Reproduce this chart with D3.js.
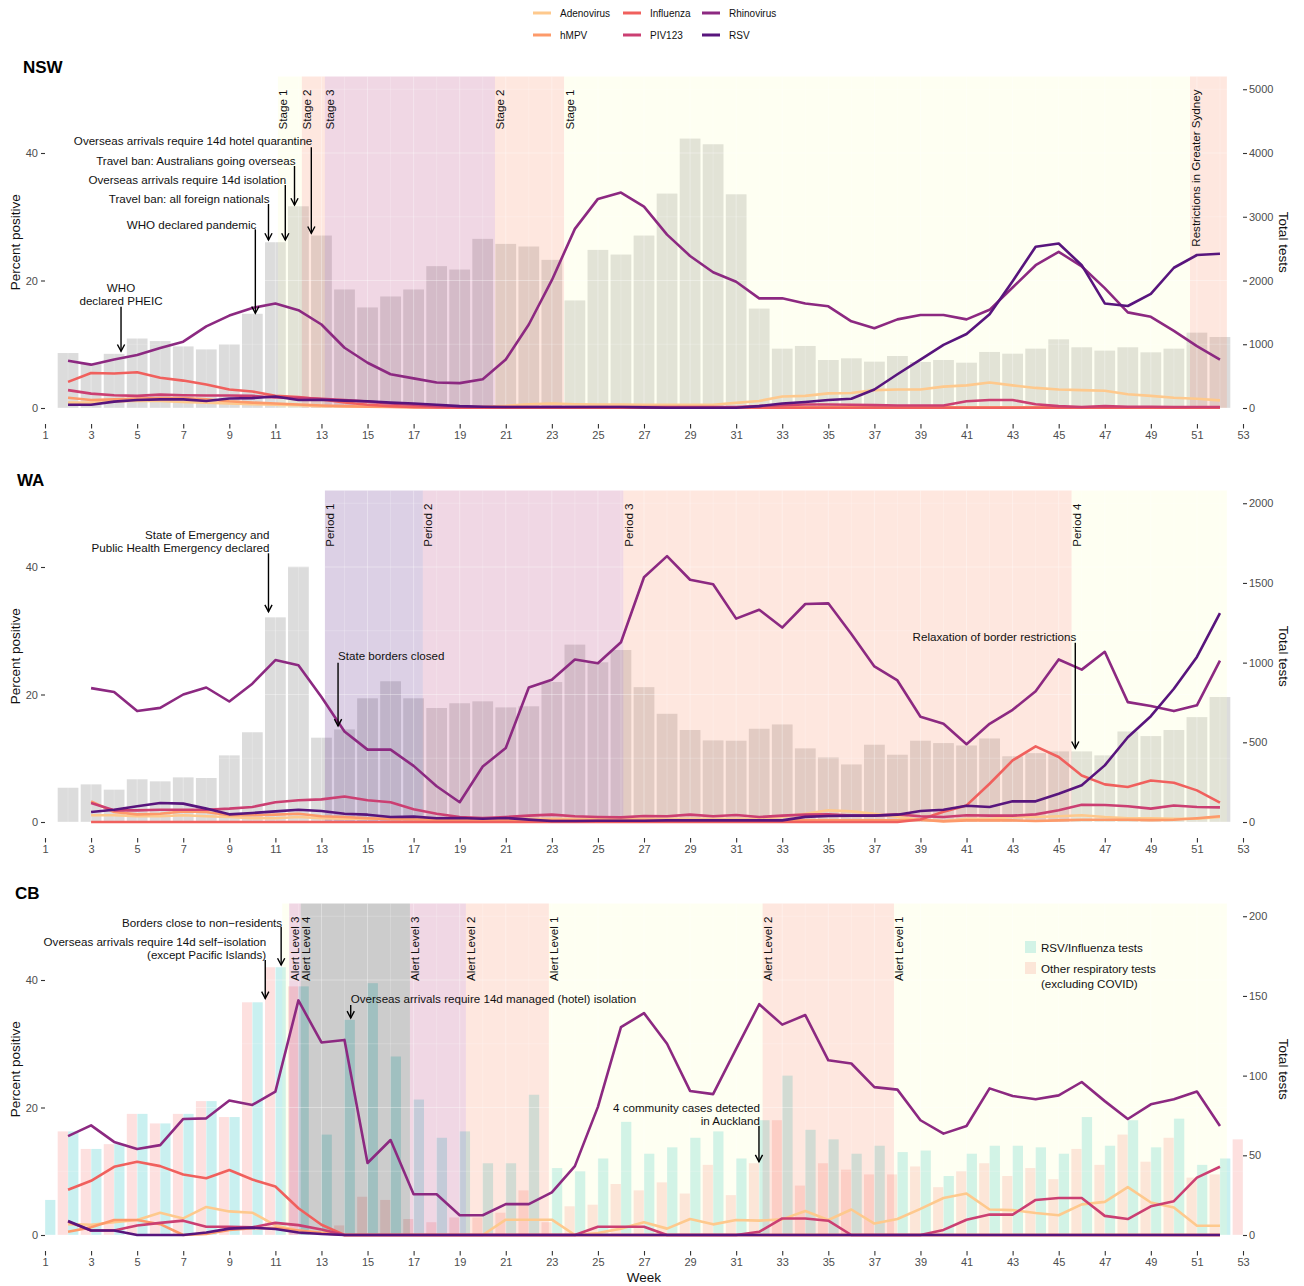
<!DOCTYPE html>
<html>
<head>
<meta charset="utf-8">
<script src="https://cdn.jsdelivr.net/npm/d3@7"></script>
<style>
  body { margin: 0; background: #ffffff; }
  text { font-family: "Liberation Sans", Arial, Helvetica, sans-serif; }
</style>
</head>
<body>
<svg id="chart" width="1304" height="1286"></svg>
<script>
// ---------------- DATA ----------------
const seriesNames = ["Adenovirus", "hMPV", "Influenza", "PIV123", "Rhinovirus", "RSV"];
const seriesColors = ["#FEC98D", "#FD9A6A", "#F0605D", "#CB3F72", "#8C2981", "#58157D"];
const weekTicks = [1,3,5,7,9,11,13,15,17,19,21,23,25,27,29,31,33,35,37,39,41,43,45,47,49,51,53];
const percentTicks = [0, 20, 40];

// NSW (bars weeks 2-52, lines weeks 2-52)
const nswTestStart = 2;
const nswTests = [862,690,850,1090,1050,966,919,997,1478,2600,
  3164,2705,1859,1577,1749,1859,2225,2172,2653,2574,
  2533,2324,1687,2480,2407,2705,3363,4226,4137,3352,
  1559,931,973,753,779,727,816,722,753,711,
  879,852,931,1077,952,900,952,873,931,1182,
  1114];
const nswLineStart = 2;
const nswAdenovirus = [0.85,0.85,1.0,1.15,1.1,0.95,0.85,0.7,0.6,0.5,
  0.45,0.3,0.25,0.2,0.2,0.15,0.15,0.15,0.2,0.35,
  0.6,0.7,0.6,0.55,0.55,0.5,0.5,0.5,0.5,0.8,
  1.1,1.8,1.9,2.3,2.35,2.8,2.9,2.9,3.35,3.55,
  4.0,3.55,3.15,2.9,2.8,2.7,2.15,1.9,1.6,1.45,
  1.2];
const nswHMPV = [1.6,1.25,1.35,1.5,1.55,1.55,1.35,1.05,0.85,0.7,
  0.55,0.4,0.3,0.2,0.15,0.1,0.1,0.1,0.1,0.1,
  0.1,0.1,0.1,0.1,0.1,0.1,0.1,0.1,0.1,0.1,
  0.1,0.1,0.1,0.1,0.1,0.1,0.1,0.1,0.1,0.1,
  0.1,0.1,0.1,0.1,0.1,0.1,0.1,0.1,0.1,0.1,
  0.1];
const nswInfluenza = [4.1,5.5,5.4,5.6,4.75,4.3,3.7,2.9,2.6,1.9,
  1.7,1.35,0.85,0.5,0.3,0.15,0.1,0.05,0.05,0.05,
  0.05,0.05,0.05,0.05,0.05,0.05,0.05,0.05,0.05,0.05,
  0.05,0.05,0.05,0.05,0.05,0.05,0.05,0.05,0.05,0.05,
  0.05,0.05,0.05,0.05,0.05,0.05,0.05,0.05,0.05,0.05,
  0.05];
const nswPIV123 = [2.8,2.25,2.0,1.9,2.1,2.0,1.95,1.95,1.9,1.65,
  1.6,1.45,1.25,1.0,0.7,0.5,0.3,0.2,0.15,0.15,
  0.15,0.15,0.15,0.15,0.15,0.15,0.15,0.15,0.15,0.15,
  0.3,0.45,0.55,0.55,0.5,0.45,0.4,0.4,0.4,1.05,
  1.25,1.25,0.6,0.3,0.15,0.3,0.2,0.2,0.15,0.15,
  0.15];
const nswRhinovirus = [7.4,6.8,7.6,8.3,9.4,10.4,12.8,14.5,15.7,16.4,
  15.35,13.1,9.45,7.1,5.3,4.65,4.0,3.9,4.5,7.6,
  13.1,20.05,28.1,32.8,33.8,31.6,27.2,23.85,21.3,19.8,
  17.2,17.2,16.4,15.95,13.6,12.5,13.9,14.6,14.6,13.9,
  15.4,18.9,22.4,24.5,22.2,18.8,15.0,14.3,12.1,9.7,
  7.6];
const nswRSV = [0.5,0.5,1.0,1.25,1.35,1.35,1.1,1.5,1.55,1.8,
  1.25,1.3,1.15,1.05,0.85,0.7,0.5,0.3,0.2,0.15,
  0.15,0.15,0.15,0.15,0.15,0.1,0.05,0.05,0.05,0.05,
  0.3,0.7,0.95,1.25,1.45,2.9,5.3,7.6,9.9,11.6,
  14.7,19.9,25.3,25.8,22.4,16.4,16.0,17.9,22.0,24.0,
  24.2];
const nswRightTicks = [0,1000,2000,3000,4000,5000];
const nswRegionStart = [11.11, 12.15, 13.15, 20.53, 23.53, 50.7];
const nswRegionEnd   = [12.15, 13.15, 20.53, 23.53, 50.7, 52.3];
const nswRegionLevel = ["L1", "L2", "L3", "L2", "L1", "L2"];
const nswRegionLabel = ["Stage 1", "Stage 2", "Stage 3", "Stage 2", "Stage 1", "Restrictions in Greater Sydney"];
const nswNoteWeek = [4.3, 10.13, 10.7, 11.43, 11.83, 12.56];
const nswNoteText = [["WHO", "declared PHEIC"], ["WHO declared pandemic"], ["Travel ban: all foreign nationals"],
  ["Overseas arrivals require 14d isolation"], ["Travel ban: Australians going overseas"],
  ["Overseas arrivals require 14d hotel quarantine"]];
const nswNoteTextAt = [18.87, 28.86, 32.94, 35.92, 38.9, 41.93];
const nswNoteFrom = [15.9, 28.03, 32.0, 34.98, 37.96, 40.9];
const nswNoteTo = [8.9, 14.86, 26.35, 26.35, 31.84, 27.4];
const nswNoteAnchor = ["middle", "end", "end", "end", "end", "end"];

// WA (bars weeks 2-52, lines weeks 3-52)
const waTestStart = 2;
const waTests = [215,236,203,268,255,280,276,418,563,1284,
  1602,529,581,776,883,776,715,745,757,719,
  726,878,1113,1002,1079,846,679,577,512,510,
  585,612,462,405,361,485,422,510,495,480,
  524,412,432,443,443,418,568,539,577,658,
  784];
const waLineStart = 3;
const waAdenovirus = [1.05,1.05,0.9,0.9,1.05,0.9,0.78,0.58,0.6,0.78,
  0.6,0.5,0.5,0.5,0.5,0.5,0.5,0.5,0.5,0.5,
  0.5,0.5,0.5,0.5,0.5,0.5,0.5,0.5,0.5,0.5,
  0.8,1.3,1.83,1.67,1.3,0.78,0.35,0.15,0.5,0.5,
  0.78,0.78,0.9,1.05,0.78,0.6,0.6,0.5,0.5,0.78];
const waHMPV = [3.24,1.57,1.2,1.3,1.67,1.57,1.05,1.05,1.15,1.3,
  0.9,0.78,0.6,0.45,0.4,0.35,0.3,0.3,0.3,0.3,
  0.3,0.3,0.3,0.3,0.3,0.26,0.26,0.26,0.26,0.26,
  0.26,0.26,0.26,0.26,0.26,0.26,0.35,0.1,0.26,0.26,
  0.26,0.15,0.26,0.35,0.35,0.35,0.3,0.35,0.6,0.9];
const waInfluenza = [0,0,0,0,0,0,0,0,0,0,
  0,0,0,0,0,0,0,0,0,0,
  0,0,0,0,0,0,0,0,0,0,
  0,0,0,0,0,0,0.4,1.6,2.6,6.0,
  9.66,11.86,10.2,7.3,5.9,5.5,6.5,6.16,4.96,3.03];
const waPIV123 = [2.98,1.83,1.83,1.93,1.93,1.93,2.1,2.35,3.1,3.4,
  3.55,4.0,3.4,3.1,2.0,1.3,0.78,0.63,0.78,1.0,
  1.15,0.9,0.78,0.73,0.94,0.9,1.15,0.9,1.1,0.78,
  1.0,1.15,1.2,1.0,1.0,1.2,0.9,0.78,1.05,1.0,
  1.0,1.2,1.83,2.7,2.66,2.46,2.1,2.6,2.35,2.3];
const waRhinovirus = [21.0,20.4,17.4,17.9,20.0,21.1,18.9,21.7,25.4,24.6,
  19.6,14.2,11.35,11.35,8.8,5.6,3.1,8.7,11.6,21.1,
  22.3,25.5,24.9,28.2,38.4,41.7,38.0,37.3,31.9,33.3,
  30.5,34.2,34.3,29.5,24.4,22.2,16.5,15.4,12.2,15.4,
  17.6,20.5,25.5,23.9,26.7,18.8,18.2,17.4,18.3,25.3];
const waRSV = [1.57,1.93,2.46,2.98,2.88,2.1,1.2,1.41,1.67,1.93,
  1.72,1.3,1.15,0.78,0.84,0.58,0.63,0.52,0.63,0.37,
  0.16,0.16,0.2,0.2,0.2,0.26,0.26,0.26,0.26,0.26,
  0.26,0.8,0.94,1.0,1.0,1.15,1.72,1.93,2.56,2.35,
  3.24,3.24,4.44,5.75,8.88,13.3,16.6,20.9,25.9,32.75];
const waRightTicks = [0,500,1000,1500,2000];
const waRegionStart = [13.15, 17.4, 26.1, 45.56];
const waRegionEnd   = [17.4, 26.1, 45.56, 52.3];
const waRegionLevel = ["L4", "L3", "L2", "L1"];
const waRegionLabel = ["Period 1", "Period 2", "Period 3", "Period 4"];
const waNoteWeek = [10.7, 13.72, 45.72];
const waNoteText = [["State of Emergency and", "Public Health Emergency declared"], ["State borders closed"], ["Relaxation of border restrictions"]];
const waNoteTextAt = [45.13, 26.09, 29.07];
const waNoteFrom = [42.15, 24.99, 28.13];
const waNoteTo = [32.99, 15.06, 11.56];
const waNoteAnchor = ["end", "start", "end"];

// CB (RSV/Influenza tests weeks 1-52, other tests weeks 2-53, lines weeks 2-52)
const cbRsvFluStart = 1;
const cbRsvFluTests = [22,65,54,57,76,70,76,84,74,146,
  168,156,63,135,158,112,85,61,65,45,
  45,88,42,40,48,71,51,55,61,65,
  48,72,100,66,60,51,56,52,53,37,
  51,56,56,55,51,74,56,72,55,73,
  44,48];
const cbOtherStart = 2;
const cbOtherTests = [65,54,57,76,70,76,84,74,146,168,
  156,0,6,24,22,10,8,11,11,14,
  28,8,18,19,32,28,33,26,44,25,
  45,72,31,45,41,38,38,43,30,40,
  45,37,42,35,54,44,63,46,61,36,
  38,60];
const cbLineStart = 2;
const cbAdenovirus = [1.7,1.6,2.0,2.35,3.5,2.6,4.4,3.7,3.5,1.5,
  0.7,0.4,0,0,0,0,0,0,0,2.4,
  2.4,2.4,0,0.3,1.0,2.0,1.0,2.5,1.67,2.35,
  2.25,2.45,3.76,2.35,4.0,1.8,2.5,4.1,5.8,6.5,
  4.0,3.9,3.45,3.1,4.8,5.2,7.5,5.1,4.3,1.46,
  1.46];
const cbHMPV = [0.5,1.2,2.35,2.35,1.7,0,0.15,0.8,1.05,1.1,
  0.7,0.3,0,0,0,0,0,0,0,0,
  0,0,0,0,0,0,0,0,0,0,
  0,0,0,0,0,0,0,0,0,0,
  0,0,0,0,0,0,0,0,0,0,
  0];
const cbInfluenza = [7.1,8.5,10.7,11.5,10.8,9.5,8.9,10.2,8.7,7.6,
  4.2,1.6,0,0,0,0,0,0,0,0,
  0,0,0,0,0,0,0,0,0,0,
  0,0,0,0,0,0,0,0,0,0,
  0,0,0,0,0,0,0,0,0,0,
  0];
const cbPIV123 = [2.1,0.7,0.7,1.5,1.9,2.25,1.3,1.3,1.2,1.9,
  1.55,0.85,0,0,0,0,0,0,0,0,
  0,0,0,1.3,1.3,1.3,0,0,0,0,
  0.5,2.6,2.6,2.24,0,0,0,0,0.8,2.4,
  3.2,3.2,5.5,5.8,5.8,3.0,2.5,4.5,5.3,9.0,
  10.7];
const cbRhinovirus = [15.5,17.2,14.6,13.5,14.1,18.2,18.3,21.1,20.4,22.5,
  36.8,30.2,30.6,11.3,14.9,6.4,6.4,3.1,3.1,4.85,
  4.85,6.7,10.8,20.1,32.6,34.8,30.0,22.6,22.1,29.2,
  36.2,33.0,34.5,27.4,26.9,23.2,22.8,18.0,15.9,17.1,
  23.0,21.8,21.3,21.9,24.0,21.0,18.2,20.5,21.3,22.5,
  17.1];
const cbRSV = [2.2,0.7,0.7,0,0,0,0.4,1.0,1.15,0.95,
  0.4,0.15,0,0,0,0,0,0,0,0,
  0,0,0,0,0,0,0,0,0,0,
  0,0,0,0,0,0,0,0,0,0,
  0,0,0,0,0,0,0,0,0,0,
  0];
const cbRightTicks = [0,50,100,150,200];
const cbRegionStart = [11.3, 11.6, 12.1, 16.84, 19.27, 22.87, 32.15, 37.85];
const cbRegionEnd   = [11.6, 12.1, 16.84, 19.27, 22.87, 32.15, 37.85, 52.3];
const cbRegionLevel = ["L1", "L3", "L4black", "L3", "L2", "L1", "L2", "L1"];
const cbRegionLabel = [null, "Alert Level 3", "Alert Level 4", "Alert Level 3", "Alert Level 2", "Alert Level 1", "Alert Level 2", "Alert Level 1"];
const cbNoteWeek = [11.25, 10.56, 14.27, 31.99];
const cbNoteText = [["Borders close to non\u2212residents"], ["Overseas arrivals require 14d self\u2212isolation", "(except Pacific Islands)"],
  ["Overseas arrivals require 14d managed (hotel) isolation"], ["4 community cases detected", "in Auckland"]];
const cbNoteTextAt = [49.05, 46.0, 37.02, 20.03];
const cbNoteFrom = [48.36, 43.14, 36.08, 17.1];
const cbNoteTo = [42.35, 37.1, 34.04, 11.5];
const cbNoteAnchor = ["end", "end", "start", "end"];
const cbBarNames = ["RSV/Influenza tests", "Other respiratory tests"];
const cbBarColors = ["#C9F0F0", "#FDE0DF"];

// ---------------- STYLE ----------------
const levelColor = { L1: "#FCFDBF", L2: "#FB8761", L3: "#B5367A", L4: "#4F127B", L4black: "#000000" };
const FONT = '"Liberation Sans", Arial, Helvetica, sans-serif';
const NOTE_SIZE = 11.6;

// ---------------- DRAW ----------------
const svg = d3.select("#chart");
const x = d3.scaleLinear().domain([1, 53]).range([45, 1243]);
const UNIT = 6.375;
const TOP = 52;

function seriesOf(start, arr) {
  return arr.map((v, i) => ({ w: start + i, v: v }));
}

function drawPanel(cfg) {
  const y0 = cfg.y0;
  const y = d3.scaleLinear().domain([0, TOP]).range([y0, y0 - TOP * UNIT]);
  const yR = d3.scaleLinear().domain([0, TOP * cfg.factor]).range([y0, y0 - TOP * UNIT]);
  const g = svg.append("g");

  // bars
  if (cfg.type === "single") {
    g.append("g").selectAll("rect").data(seriesOf(cfg.testStart, cfg.tests)).join("rect")
      .attr("x", d => x(d.w - 0.45)).attr("width", d => x(d.w + 0.45) - x(d.w - 0.45))
      .attr("y", d => yR(d.v)).attr("height", d => yR(0) - yR(d.v))
      .attr("fill", "#DCDCDC");
  } else {
    g.append("g").selectAll("rect").data(seriesOf(cbOtherStart, cbOtherTests)).join("rect")
      .attr("x", d => x(d.w - 0.45)).attr("width", d => x(d.w) - x(d.w - 0.45))
      .attr("y", d => yR(d.v)).attr("height", d => yR(0) - yR(d.v))
      .attr("fill", cbBarColors[1]);
    g.append("g").selectAll("rect").data(seriesOf(cbRsvFluStart, cbRsvFluTests)).join("rect")
      .attr("x", d => x(d.w)).attr("width", d => x(d.w + 0.45) - x(d.w))
      .attr("y", d => yR(d.v)).attr("height", d => yR(0) - yR(d.v))
      .attr("fill", cbBarColors[0]);
  }

  // shaded regions
  const regions = cfg.rStart.map((s, i) => ({ s: s, e: cfg.rEnd[i], lvl: cfg.rLevel[i], lab: cfg.rLabel[i] }));
  g.append("g").selectAll("rect").data(regions).join("rect")
    .attr("x", d => x(d.s)).attr("width", d => x(d.e) - x(d.s))
    .attr("y", y(TOP)).attr("height", y(0) - y(TOP))
    .attr("fill", d => levelColor[d.lvl]).attr("fill-opacity", 0.2);

  // grid
  const grid = g.append("g").attr("stroke", "#ffffff").attr("stroke-opacity", 0.35);
  grid.selectAll("line.h").data([0, 10, 20, 30, 40, 50]).join("line")
    .attr("x1", x(1)).attr("x2", x(53)).attr("y1", d => y(d)).attr("y2", d => y(d))
    .attr("stroke-width", d => d % 20 === 0 ? 1 : 0.6);
  grid.selectAll("line.v").data(d3.range(1, 54)).join("line")
    .attr("y1", y(0)).attr("y2", y(TOP)).attr("x1", d => x(d)).attr("x2", d => x(d))
    .attr("stroke-width", d => d % 2 === 1 ? 1 : 0.6);

  // lines
  const line = d3.line().x(d => x(d.w)).y(d => y(d.v));
  cfg.series.forEach((arr, i) => {
    g.append("path").datum(seriesOf(cfg.lineStart, arr))
      .attr("d", line).attr("fill", "none")
      .attr("stroke", seriesColors[i]).attr("stroke-width", 2.6)
      .attr("stroke-linejoin", "round");
  });

  // region labels
  g.append("g").selectAll("text").data(regions.filter(d => d.lab)).join("text")
    .attr("transform", d => `translate(${x(d.s) + 5},${y(TOP) + 13}) rotate(-90)`)
    .attr("text-anchor", "end").attr("dominant-baseline", "central")
    .attr("font-size", NOTE_SIZE).attr("fill", "#111").text(d => d.lab);

  // annotations
  cfg.notes.week.forEach((wk, i) => {
    const ax = x(wk);
    const anchor = cfg.notes.anchor[i];
    const tx = anchor === "end" ? ax + 1 : ax;
    const lines = cfg.notes.text[i];
    const t = g.append("text").attr("text-anchor", anchor).attr("font-size", NOTE_SIZE).attr("fill", "#111");
    lines.forEach((s, j) => {
      t.append("tspan").attr("x", tx).attr("y", y(cfg.notes.at[i]) + j * 12.8)
        .attr("dominant-baseline", "central").text(s);
    });
    const yA = y(cfg.notes.from[i]), yB = y(cfg.notes.to[i]);
    g.append("line").attr("x1", ax).attr("x2", ax).attr("y1", yA).attr("y2", yB)
      .attr("stroke", "#000").attr("stroke-width", 1.4);
    g.append("path").attr("d", `M${ax - 3.6},${yB - 6.8}L${ax},${yB}L${ax + 3.6},${yB - 6.8}`)
      .attr("fill", "none").attr("stroke", "#000").attr("stroke-width", 1.4);
  });

  // axes
  const styleAxis = s => {
    s.select(".domain").remove();
    s.selectAll(".tick line").attr("stroke", "#333").attr("stroke-width", 1.1);
    s.selectAll(".tick text").attr("fill", "#4D4D4D").attr("font-size", 11).attr("font-family", FONT);
  };
  g.append("g").attr("transform", "translate(45,0)")
    .call(d3.axisLeft(y).tickValues(percentTicks).tickSize(4).tickPadding(3).tickFormat(d3.format("d"))).call(styleAxis);
  g.append("g").attr("transform", "translate(1243,0)")
    .call(d3.axisRight(yR).tickValues(cfg.rightTicks).tickSize(4).tickPadding(2).tickFormat(d3.format("d"))).call(styleAxis);
  g.append("g").attr("transform", `translate(0,${y0 + 16})`)
    .call(d3.axisBottom(x).tickValues(weekTicks).tickSize(4.5).tickPadding(2.5).tickFormat(d3.format("d"))).call(styleAxis);

  // axis titles & panel title
  const midY = (y(0) + y(TOP)) / 2;
  g.append("text").attr("transform", `translate(15,${midY}) rotate(-90)`)
    .attr("text-anchor", "middle").attr("dominant-baseline", "central")
    .attr("font-size", 13.5).attr("fill", "#111").text("Percent positive");
  g.append("text").attr("transform", `translate(1283,${midY}) rotate(90)`)
    .attr("text-anchor", "middle").attr("dominant-baseline", "central")
    .attr("font-size", 13.5).attr("fill", "#111").text("Total tests");
  g.append("text").attr("x", cfg.titleX).attr("y", cfg.titleY)
    .attr("font-size", 17).attr("font-weight", "bold").attr("fill", "#000").text(cfg.title);
}

drawPanel({
  title: "NSW", titleX: 23, titleY: 73, y0: 408, factor: 100, type: "single",
  testStart: nswTestStart, tests: nswTests, lineStart: nswLineStart,
  series: [nswAdenovirus, nswHMPV, nswInfluenza, nswPIV123, nswRhinovirus, nswRSV],
  rightTicks: nswRightTicks,
  rStart: nswRegionStart, rEnd: nswRegionEnd, rLevel: nswRegionLevel, rLabel: nswRegionLabel,
  notes: { week: nswNoteWeek, text: nswNoteText, at: nswNoteTextAt, from: nswNoteFrom, to: nswNoteTo, anchor: nswNoteAnchor }
});
drawPanel({
  title: "WA", titleX: 17, titleY: 486, y0: 822, factor: 40, type: "single",
  testStart: waTestStart, tests: waTests, lineStart: waLineStart,
  series: [waAdenovirus, waHMPV, waInfluenza, waPIV123, waRhinovirus, waRSV],
  rightTicks: waRightTicks,
  rStart: waRegionStart, rEnd: waRegionEnd, rLevel: waRegionLevel, rLabel: waRegionLabel,
  notes: { week: waNoteWeek, text: waNoteText, at: waNoteTextAt, from: waNoteFrom, to: waNoteTo, anchor: waNoteAnchor }
});
drawPanel({
  title: "CB", titleX: 15, titleY: 899, y0: 1235, factor: 4, type: "dodge",
  lineStart: cbLineStart,
  series: [cbAdenovirus, cbHMPV, cbInfluenza, cbPIV123, cbRhinovirus, cbRSV],
  rightTicks: cbRightTicks,
  rStart: cbRegionStart, rEnd: cbRegionEnd, rLevel: cbRegionLevel, rLabel: cbRegionLabel,
  notes: { week: cbNoteWeek, text: cbNoteText, at: cbNoteTextAt, from: cbNoteFrom, to: cbNoteTo, anchor: cbNoteAnchor }
});

// CB bar legend (inside panel)
const bl = svg.append("g");
[0, 1].forEach(i => {
  bl.append("rect").attr("x", 1025).attr("y", 941 + i * 21).attr("width", 11).attr("height", 12)
    .attr("fill", cbBarColors[i]);
  bl.append("rect").attr("x", 1025).attr("y", 941 + i * 21).attr("width", 11).attr("height", 12)
    .attr("fill", levelColor.L1).attr("fill-opacity", 0.2);
});
bl.append("text").attr("x", 1041).attr("y", 947.5).attr("dominant-baseline", "central")
  .attr("font-size", NOTE_SIZE).attr("fill", "#111").text(cbBarNames[0]);
bl.append("text").attr("x", 1041).attr("y", 968.5).attr("dominant-baseline", "central")
  .attr("font-size", NOTE_SIZE).attr("fill", "#111").text(cbBarNames[1]);
bl.append("text").attr("x", 1041).attr("y", 983.5).attr("dominant-baseline", "central")
  .attr("font-size", NOTE_SIZE).attr("fill", "#111").text("(excluding COVID)");

// top legend
const legCols = [533, 623, 702];
const legRows = [13, 35];
const lg = svg.append("g");
seriesNames.forEach((name, i) => {
  const cx = legCols[Math.floor(i / 2)], cy = legRows[i % 2];
  lg.append("line").attr("x1", cx).attr("x2", cx + 18).attr("y1", cy).attr("y2", cy)
    .attr("stroke", seriesColors[i]).attr("stroke-width", 3);
  lg.append("text").attr("x", cx + 27).attr("y", cy).attr("dominant-baseline", "central")
    .attr("font-size", 10).attr("fill", "#111").text(name);
});

// x-axis title
svg.append("text").attr("x", 644).attr("y", 1277).attr("text-anchor", "middle")
  .attr("dominant-baseline", "central").attr("font-size", 13.5).attr("fill", "#111").text("Week");
</script>
</body>
</html>
